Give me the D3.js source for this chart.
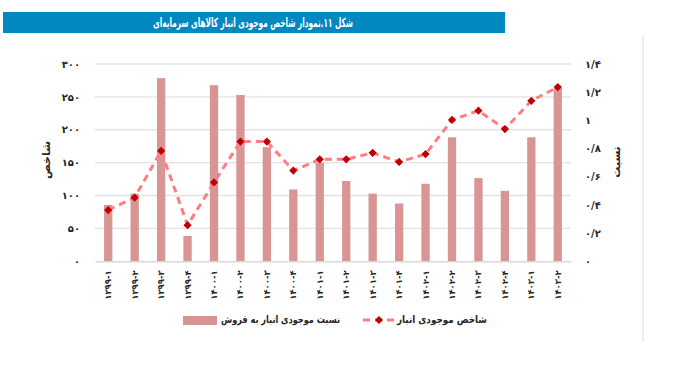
<!DOCTYPE html>
<html>
<head>
<meta charset="utf-8">
<script src="https://cdn.jsdelivr.net/npm/d3@7"></script>
<style>
  html, body { margin: 0; padding: 0; background: #ffffff; }
  svg { display: block; font-family: "DejaVu Sans", sans-serif; }
</style>
</head>
<body>
<svg id="chart" width="687" height="369"></svg>
<script>
// ---------- data ----------
const categories = [
  "1399-1","1399-2","1399-3","1399-4",
  "1400-1","1400-2","1400-3","1400-4",
  "1401-1","1401-2","1401-3","1401-4",
  "1402-1","1402-2","1402-3","1402-4",
  "1403-1","1403-2"
];
// نسبت موجودی انبار به فروش (bars, right axis)
const ratioValues = [0.40, 0.48, 1.30, 0.18, 1.25, 1.18, 0.81, 0.51, 0.70, 0.57, 0.48, 0.41, 0.55, 0.88, 0.59, 0.50, 0.88, 1.23];
// شاخص موجودی انبار (line, left axis)
const indexValues = [78, 97, 168, 55, 120, 182, 182, 138, 155, 155, 165, 151, 163, 215, 229, 201, 244, 265];
const leftTicks = [0, 50, 100, 150, 200, 250, 300];
const rightTicks = [0, 0.2, 0.4, 0.6, 0.8, 1, 1.2, 1.4];

const titleText = "شکل ۱۱.نمودار شاخص موجودی انبار کالاهای سرمایه‌ای";
const leftAxisTitle = "شاخص";
const rightAxisTitle = "نسبت";
const barLegend = "نسبت موجودی انبار به فروش";
const lineLegend = "شاخص موجودی انبار";

// ---------- helpers ----------
const faDigits = "۰۱۲۳۴۵۶۷۸۹";
function fa(s) {
  return String(s).replace(/[0-9]/g, d => faDigits[+d]).replace(/\./g, "/");
}

// ---------- layout ----------
const svg = d3.select("#chart");
const plot = { left: 95, right: 571, top: 64, bottom: 261.3 };
const barColor = "#d99594";
const lineColor = "#ff7c80";
const markerColor = "#c00000";
const gridColor = "#e3e3e3";
const textColor = "#262626";

// title bar
svg.append("rect").attr("x", 3).attr("y", 12).attr("width", 502).attr("height", 21).attr("fill", "#0088c1");
svg.append("text").attr("x", 253).attr("y", 23).attr("text-anchor", "middle")
  .attr("dominant-baseline", "middle").attr("fill", "#ffffff").attr("font-weight", "bold")
  .attr("font-size", 12.5).attr("textLength", 200).attr("lengthAdjust", "spacingAndGlyphs")
  .text(titleText);

// right border line
svg.append("line").attr("x1", 643).attr("x2", 643).attr("y1", 36).attr("y2", 342)
  .attr("stroke", "#dcdcdc").attr("stroke-width", 1);

// scales
const x = d3.scaleBand().domain(categories).range([plot.left, plot.right])
  .paddingInner(0.686).paddingOuter(0.343);
const yL = d3.scaleLinear().domain([0, 300]).range([plot.bottom, plot.top]);
const yR = d3.scaleLinear().domain([0, 1.4]).range([plot.bottom, plot.top]);

// grid
svg.append("g").selectAll("line").data(leftTicks.slice(1)).join("line")
  .attr("x1", plot.left).attr("x2", plot.right)
  .attr("y1", d => yL(d)).attr("y2", d => yL(d))
  .attr("stroke", gridColor).attr("stroke-width", 1.4);

// left axis
const gL = svg.append("g").attr("transform", `translate(${plot.left},0)`)
  .call(d3.axisLeft(yL).tickValues(leftTicks).tickSize(0).tickPadding(15).tickFormat(fa));
gL.select(".domain").remove();
gL.selectAll("text").attr("font-size", 10).attr("font-weight", "bold").attr("fill", textColor)
  .attr("font-family", "DejaVu Sans");

// right axis
const gR = svg.append("g").attr("transform", `translate(${plot.right},0)`)
  .call(d3.axisRight(yR).tickValues(rightTicks).tickSize(0).tickPadding(14).tickFormat(fa));
gR.select(".domain").remove();
gR.selectAll("text").attr("font-size", 10).attr("font-weight", "bold").attr("fill", textColor)
  .attr("font-family", "DejaVu Sans");

// bars
svg.append("g").selectAll("rect").data(categories).join("rect")
  .attr("x", d => x(d)).attr("width", x.bandwidth())
  .attr("y", (d, i) => yR(ratioValues[i]))
  .attr("height", (d, i) => plot.bottom - yR(ratioValues[i]))
  .attr("fill", barColor);

// x axis
const gX = svg.append("g").attr("transform", `translate(0,${plot.bottom})`)
  .call(d3.axisBottom(x).tickSize(0).tickPadding(0).tickFormat(fa));
gX.select(".domain").attr("stroke", "#d9d9d9").attr("stroke-width", 1.4);
gX.selectAll("text")
  .attr("transform", "rotate(-90)")
  .attr("text-anchor", "end")
  .attr("x", -9).attr("y", 0).attr("dy", "0.35em")
  .attr("font-size", 8.5).attr("font-weight", "bold").attr("fill", textColor)
  .attr("font-family", "DejaVu Sans");

// line
const line = d3.line().x((d, i) => x(categories[i]) + x.bandwidth() / 2).y(d => yL(d));
svg.append("path").datum(indexValues).attr("d", line)
  .attr("fill", "none").attr("stroke", lineColor).attr("stroke-width", 3)
  .attr("stroke-dasharray", "7,5");
const sym = d3.symbol().type(d3.symbolSquare).size(34);
svg.append("g").selectAll("path").data(indexValues).join("path")
  .attr("d", sym)
  .attr("transform", (d, i) => `translate(${x(categories[i]) + x.bandwidth() / 2},${yL(d)}) rotate(45)`)
  .attr("fill", markerColor);

// axis titles
svg.append("text").attr("transform", "translate(47,160) rotate(-90)")
  .attr("text-anchor", "middle").attr("dominant-baseline", "middle")
  .attr("font-size", 11).attr("font-weight", "bold").attr("fill", textColor).text(leftAxisTitle);
svg.append("text").attr("transform", "translate(617,162) rotate(-90)")
  .attr("text-anchor", "middle").attr("dominant-baseline", "middle")
  .attr("font-size", 11).attr("font-weight", "bold").attr("fill", textColor).text(rightAxisTitle);

// legend
const lg = svg.append("g");
lg.append("rect").attr("x", 183).attr("y", 316).attr("width", 34).attr("height", 9).attr("fill", barColor);
lg.append("text").attr("x", 280.5).attr("y", 320).attr("text-anchor", "middle")
  .attr("dominant-baseline", "middle").attr("font-size", 10.5).attr("font-weight", "bold")
  .attr("textLength", 119).attr("lengthAdjust", "spacingAndGlyphs")
  .attr("fill", textColor).text(barLegend);
lg.append("line").attr("x1", 363).attr("x2", 395).attr("y1", 320).attr("y2", 320)
  .attr("stroke", lineColor).attr("stroke-width", 3).attr("stroke-dasharray", "7,5");
lg.append("path").attr("d", sym).attr("transform", "translate(379,320) rotate(45)").attr("fill", markerColor);
lg.append("text").attr("x", 442).attr("y", 320).attr("text-anchor", "middle")
  .attr("dominant-baseline", "middle").attr("font-size", 10.5).attr("font-weight", "bold")
  .attr("textLength", 90).attr("lengthAdjust", "spacingAndGlyphs")
  .attr("fill", textColor).text(lineLegend);
</script>
</body>
</html>
